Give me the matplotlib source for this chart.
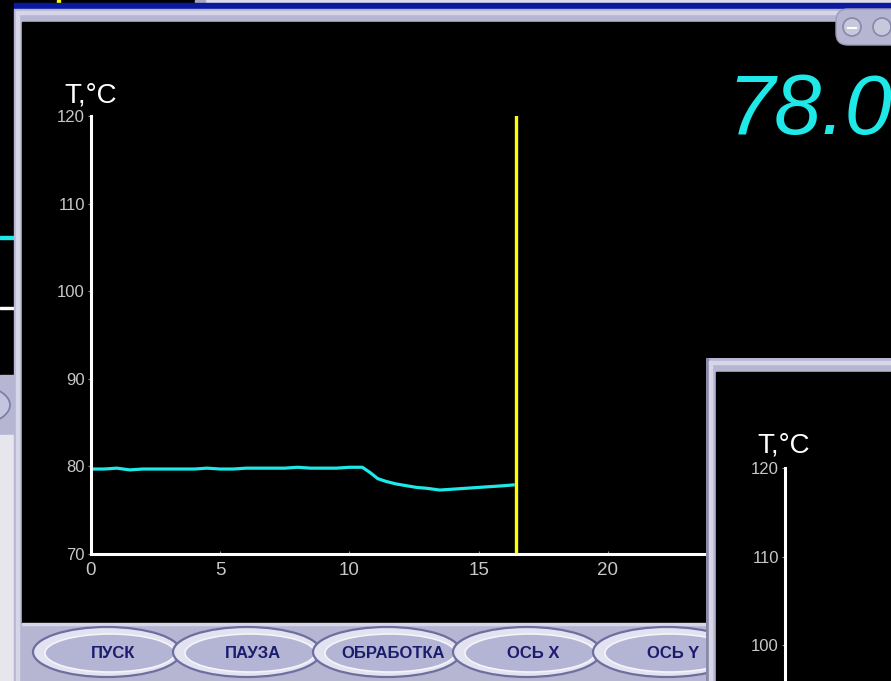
import matplotlib
matplotlib.use("Agg")
import matplotlib.pyplot as plt
from matplotlib.patches import Rectangle, Ellipse, Circle, FancyBboxPatch

plt.rcParams['font.family'] = ['Liberation Sans', 'DejaVu Sans']

# data
time_min = [0.0, 0.5, 1.0, 1.5, 2.0, 2.5, 3.0, 3.5, 4.0, 4.5, 5.0, 5.5,
            6.0, 6.5, 7.0, 7.5, 8.0, 8.5, 9.0, 9.5, 10.0, 10.5,
            10.8, 11.1, 11.4, 11.8, 12.2, 12.6, 13.0, 13.5, 14.0, 14.5,
            15.0, 15.5, 16.0, 16.4]
temp_c = [79.7, 79.7, 79.8, 79.6, 79.7, 79.7, 79.7, 79.7, 79.7, 79.8, 79.7, 79.7,
          79.8, 79.8, 79.8, 79.8, 79.9, 79.8, 79.8, 79.8, 79.9, 79.9,
          79.3, 78.6, 78.3, 78.0, 77.8, 77.6, 77.5, 77.3, 77.4, 77.5,
          77.6, 77.7, 77.8, 77.9]
cursor_min = 16.44
readout = "78.0"
x_ticks = [0, 5, 10, 15, 20, 25]
y_ticks = [70, 80, 90, 100, 110, 120]
inset_ticks = [100, 110, 120]
buttons = ['ПУСК', 'ПАУЗА', 'ОБРАБОТКА', 'ОСЬ X', 'ОСЬ Y']

W, H = 891, 681
LAV = '#b6b6d2'
LAV_HI = '#d6d6e8'
GREY_TXT = '#c8c8c8'
CYAN = '#1ee8e8'

fig = plt.figure(figsize=(W / 100, H / 100), dpi=100)
fig.patch.set_facecolor('black')


def px_axes(x0, y0, x1, y1, z):
    # axes placed by screen pixels (top-left origin)
    return fig.add_axes([x0 / W, 1 - y1 / H, (x1 - x0) / W, (y1 - y0) / H], zorder=z)


# ---- window chrome ----
bg = px_axes(0, 0, W, H, 0)
bg.set_xlim(0, W)
bg.set_ylim(H, 0)
bg.axis('off')

bg.add_patch(Rectangle((0, 0), W, H, color='black'))
bg.add_patch(Rectangle((205, 0), W - 205, 3, color='#dcdce8'))
bg.add_patch(Rectangle((195, 0), 10, 9, color='#a8a8bc'))
bg.add_patch(Rectangle((57, 0), 3, 3, color='#ffff00'))
bg.add_patch(Rectangle((14, 3), W - 14, 6, color='#0a1aa0'))

# window behind on the left
bg.add_patch(Rectangle((0, 236), 14, 3, color=CYAN))
bg.add_patch(Rectangle((0, 307), 14, 2, color='white'))
bg.add_patch(Rectangle((0, 375), 14, 60, color=LAV))
bg.add_patch(Ellipse((-40, 405), 100, 46, fc='#c4c4de', ec='#7a7aa8', lw=1.2))
bg.add_patch(Rectangle((0, 435), 14, H - 435, color='#e6e6ec'))

# main window frame
bg.add_patch(Rectangle((14, 9), W - 14, H - 9, color=LAV))
bg.add_patch(Rectangle((16, 11), 3, H - 11, color=LAV_HI))
bg.add_patch(Rectangle((16, 11), W - 16, 3, color=LAV_HI))
bg.add_patch(Rectangle((22, 22), W - 22, 601, color='black'))
bg.add_patch(Rectangle((22, 623), 690, 2, color=LAV_HI))

# title-bar buttons, top right
bg.add_patch(FancyBboxPatch((836, 9), 70, 36, boxstyle='round,pad=0,rounding_size=12',
                            fc=LAV, ec='#9a9abb', lw=1))
for cx in (852, 882):
    bg.add_patch(Circle((cx, 27), 9, fc='#c8c8dc', ec='#8888a8', lw=1.2))
bg.plot([848, 856], [28, 28], color='white', lw=1.5)

# bottom buttons
for i, name in enumerate(buttons):
    cx = 107 + 140 * i
    bg.add_patch(Ellipse((cx, 652), 148, 50, fc='#e2e2f0', ec='#6e6ea0', lw=1.6))
    bg.add_patch(Ellipse((cx + 3, 653), 130, 38, fc='#b4b4d4', ec='#f4f4fa', lw=1.2))
    bg.text(cx + 6, 654, name, ha='center', va='center', fontsize=12,
            fontweight='bold', color='#1c1c6e')

# digital readout
bg.text(727, 134, readout, fontsize=61, color=CYAN, style='italic',
        ha='left', va='baseline')

bg.text(64, 103, 'T,°C', fontsize=20, color='white', ha='left', va='baseline')

# ---- main chart ----
ax = px_axes(91, 116, 737, 554, 1)
ax.set_facecolor('none')
ax.plot(time_min, temp_c, color=CYAN, lw=2.3, solid_capstyle='butt')
ax.axvline(cursor_min, color='#ffff00', lw=2.4)
ax.set_xlim(0, 25)
ax.set_ylim(70, 120)
ax.set_xticks(x_ticks)
ax.set_yticks(y_ticks)
for s in ('top', 'right'):
    ax.spines[s].set_visible(False)
for s in ('left', 'bottom'):
    ax.spines[s].set_color('white')
    ax.spines[s].set_linewidth(2.2)
ax.tick_params(axis='y', colors='#909090', labelcolor=GREY_TXT, length=2.5,
               width=0.8, pad=2, labelsize=12)
ax.tick_params(axis='x', colors='#909090', labelcolor=GREY_TXT, length=2.5,
               width=0.8, pad=6, labelsize=13.5, direction='in')

# ---- second window (bottom right) ----
win2 = px_axes(706, 358, W, H, 2)
win2.set_xlim(706, W)
win2.set_ylim(H, 358)
win2.axis('off')
win2.add_patch(Rectangle((706, 358), W - 706, H - 358, color=LAV))
win2.add_patch(Rectangle((706, 358), 1.5, H - 358, color='#8a8aa8'))
win2.add_patch(Rectangle((709, 361), 3, H - 361, color=LAV_HI))
win2.add_patch(Rectangle((709, 361), W - 709, 3, color=LAV_HI))
win2.add_patch(Rectangle((716, 372), W - 716, H - 372, color='black'))
win2.text(757, 453, 'T,°C', fontsize=20, color='white', ha='left', va='baseline')

ax2 = px_axes(785, 468, W, 468 + 50 * 8.85, 3)
ax2.set_facecolor('none')
ax2.set_xlim(0, 25)
ax2.set_ylim(70, 120)
ax2.set_xticks([])
ax2.set_yticks(inset_ticks)
for s in ('top', 'right', 'bottom'):
    ax2.spines[s].set_visible(False)
ax2.spines['left'].set_color('white')
ax2.spines['left'].set_linewidth(2.2)
ax2.tick_params(axis='y', colors='#909090', labelcolor=GREY_TXT, length=2.5,
                width=0.8, pad=2, labelsize=12)

fig.savefig('out.png', dpi=100, facecolor='black')
